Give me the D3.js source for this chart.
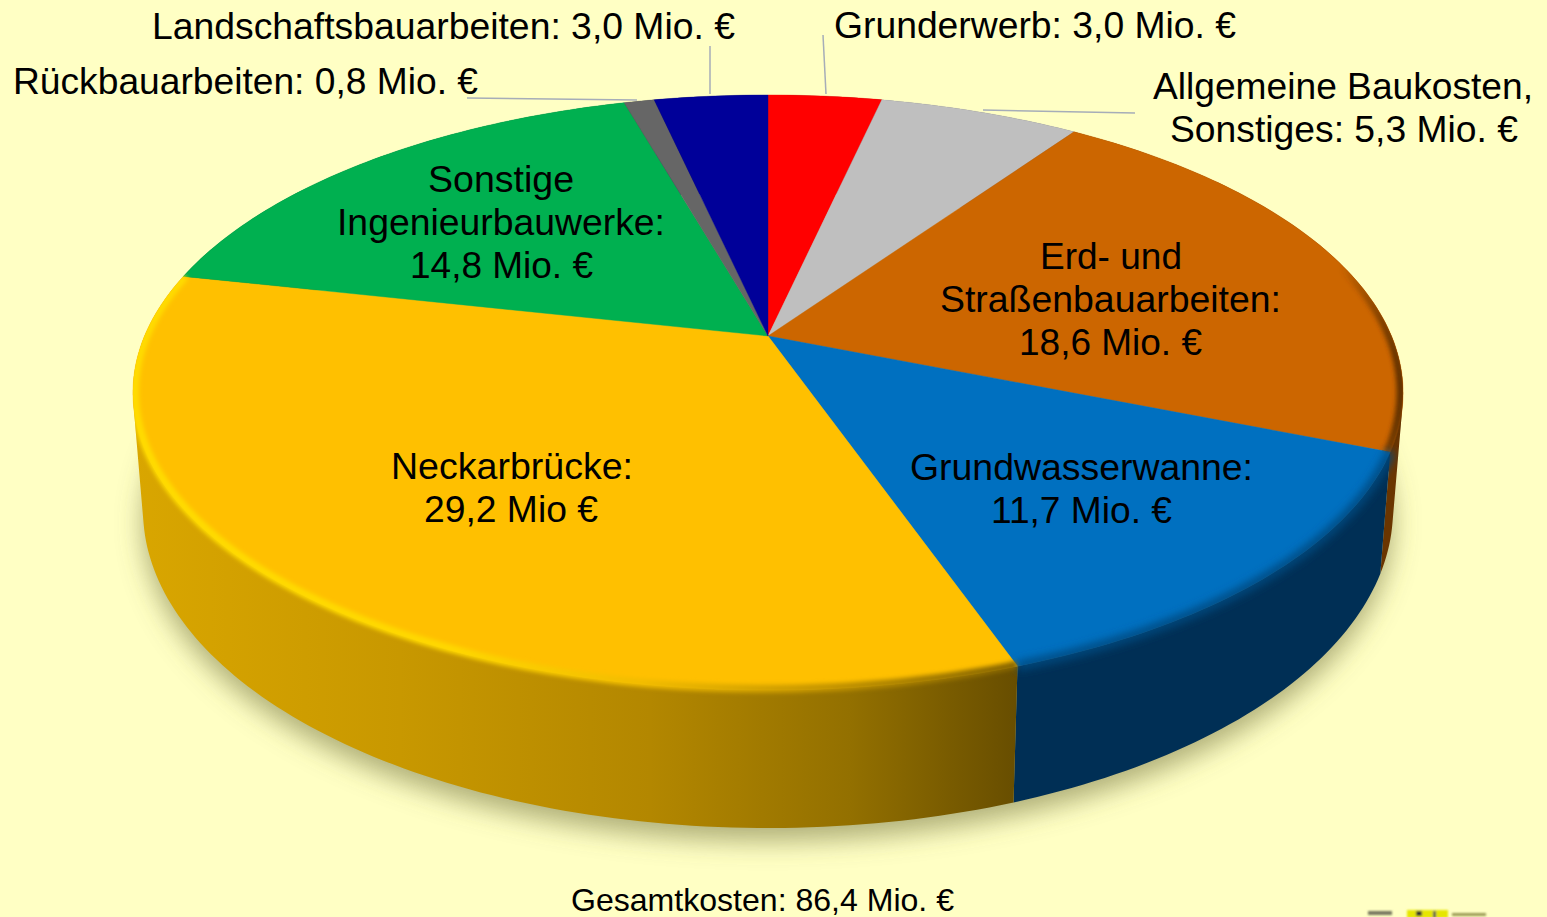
<!DOCTYPE html>
<html>
<head>
<meta charset="utf-8">
<script src="https://cdn.jsdelivr.net/npm/d3@7"></script>
<style>
  html, body { margin: 0; padding: 0; background: #ffffc4; overflow: hidden; }
  text { font-family: "Liberation Sans", Arial, sans-serif; fill: #000; }
</style>
</head>
<body>
<svg id="chart" width="1547" height="917"></svg>
<script>
// clockwise from 12 o'clock
const categories = ["Grunderwerb", "Allgemeine Baukosten, Sonstiges", "Erd- und Straßenbauarbeiten",
  "Grundwasserwanne", "Neckarbrücke", "Sonstige Ingenieurbauwerke", "Rückbauarbeiten", "Landschaftsbauarbeiten"];
const values = [3.0, 5.3, 18.6, 11.7, 29.2, 14.8, 0.8, 3.0];
const topColors = ["#ff0000", "#bfbfbf", "#cc6600", "#0070c0", "#ffc000", "#00b050", "#666666", "#000099"];
const sideColors = ["#800000", "#606060", "#6a3500", "#002f55", "#c89800", "#005828", "#333333", "#00004d"];

// [text, left, right, baseline]
const labelLines = [
  ["Landschaftsbauarbeiten: 3,0 Mio. €", 152, 735, 39],
  ["Rückbauarbeiten: 0,8 Mio. €", 13, 478, 94],
  ["Grunderwerb: 3,0 Mio. €", 834, 1236, 38],
  ["Allgemeine Baukosten,", 1153, 1533, 99],
  ["Sonstiges: 5,3 Mio. €", 1170, 1518, 142],
  ["Sonstige", 428, 574, 192],
  ["Ingenieurbauwerke:", 337, 665, 235],
  ["14,8 Mio. €", 410, 593, 278],
  ["Erd- und", 1040, 1182, 269],
  ["Straßenbauarbeiten:", 940, 1281, 312],
  ["18,6 Mio. €", 1019, 1202, 355],
  ["Neckarbrücke:", 391, 633, 479],
  ["29,2 Mio €", 424, 598, 522],
  ["Grundwasserwanne:", 910, 1253, 480],
  ["11,7 Mio. €", 991, 1172, 523]
];
const totalLabel = ["Gesamtkosten: 86,4 Mio. €", 571, 954, 911];

// leader lines [x1, y1, x2, y2]
const leaders = [[710, 46, 710, 94], [823, 35, 826, 94], [467, 98, 637, 100], [983, 110, 1135, 113]];

const svg = d3.select("#chart");
const defs = svg.append("defs");

// perspective disc: k is the tilt, same for both rims
const k = 0.19;
const cx = 768;
const rimTop = { y0: 336, rx: 623.5, ry: 286.8 };
const rimBottom = { y0: 449.6, rx: 613.6, ry: 306.5 };

const project = (a, rim, scale = 1) => {
  const u = Math.sin(a) * scale;
  const v = -Math.cos(a) * scale;
  const w = 1 - k * v;
  return [cx + (rim.rx * u) / w, rim.y0 + (rim.ry * v) / w];
};

const arcPoints = (a0, a1, rim, scale = 1) => {
  const n = Math.max(2, Math.ceil(((a1 - a0) * 180) / Math.PI));
  return d3.range(n + 1).map((i) => project(a0 + ((a1 - a0) * i) / n, rim, scale));
};

const pie = d3.pie().sort(null).startAngle(0).endAngle(2 * Math.PI)(values);
const line = d3.line();

const topPath = (d) =>
  line([[cx, rimTop.y0], ...arcPoints(d.startAngle, d.endAngle, rimTop)]) + "Z";

// one path of small quads, wound like the top slices so overlaps stay filled
const sidePath = (d) => {
  const a = arcPoints(d.startAngle, d.endAngle, rimTop);
  const b = arcPoints(d.startAngle, d.endAngle, rimBottom);
  return a.slice(1).map((p, i) => {
    const quad = [a[i], p, b[i + 1], b[i]];
    return line(d3.polygonArea(quad) > 0 ? quad.reverse() : quad) + "Z";
  }).join("");
};

// background
svg.append("rect").attr("width", 1547).attr("height", 917).attr("fill", "#ffffc4");

const blur = (id, s) =>
  defs.append("filter").attr("id", id)
    .attr("x", "-20%").attr("y", "-20%").attr("width", "140%").attr("height", "140%")
    .append("feGaussianBlur").attr("stdDeviation", s);
blur("shadow", 13);
blur("soft", 2.2);
blur("softer", 4);
blur("logoBlur", 1);

// soft shadow
svg.append("path")
  .attr("d", line(arcPoints(0, 2 * Math.PI, rimBottom)) + "Z")
  .attr("transform", "translate(0,13)")
  .attr("fill", "#6f6f3c")
  .attr("fill-opacity", 0.55)
  .attr("filter", "url(#shadow)");

// gradients for the Neckarbrücke wall and the rim highlights
const gradient = (id, stops) => {
  const g = defs.append("linearGradient").attr("id", id)
    .attr("gradientUnits", "userSpaceOnUse")
    .attr("x1", 130).attr("x2", 1403).attr("y1", 0).attr("y2", 0);
  stops.forEach((s) => g.append("stop")
    .attr("offset", (s[0] - 130) / 1273)
    .attr("stop-color", s[1])
    .attr("stop-opacity", s[2] === undefined ? 1 : s[2]));
};
gradient("wallNeckar", [[133, "#d9a600"], [400, "#c89800"], [650, "#b38700"], [850, "#937000"], [1015, "#684e00"]]);
gradient("rimNeckar", [[133, "#ffdc00"], [450, "#ffd800"], [640, "#f2bc00"], [830, "#c39400"], [1015, "#866500"]]);
gradient("rimBlue", [[1015, "#00497f"], [1403, "#00497f"]]);
gradient("rimOrange", [[1340, "#6a3500", 0], [1378, "#6a3500", 0.7], [1403, "#5c2e00"]]);

const wallFill = (i) => (categories[i] === "Neckarbrücke" ? "url(#wallNeckar)" : sideColors[i]);

// walls back to front, the top covers what faces away
const order = d3.range(pie.length).sort((a, b) =>
  d3.descending(Math.abs(Math.PI - (pie[a].startAngle + pie[a].endAngle) / 2),
    Math.abs(Math.PI - (pie[b].startAngle + pie[b].endAngle) / 2)));

svg.append("g").selectAll("path")
  .data(order)
  .join("path")
  .attr("d", (i) => sidePath(pie[i]))
  .attr("fill", wallFill);

svg.append("g").selectAll("path")
  .data(pie)
  .join("path")
  .attr("d", topPath)
  .attr("fill", (d, i) => topColors[i])
  .attr("stroke", (d, i) => topColors[i])
  .attr("stroke-width", 0.4);

// blurred bevel along the front rim, clipped to the pie body
defs.append("clipPath").attr("id", "body")
  .append("path")
  .attr("d", pie.map(topPath).join("") + pie.map(sidePath).join(""));

const rimFor = {
  "Erd- und Straßenbauarbeiten": ["url(#rimOrange)", "url(#soft)", 0.996, 8],
  "Grundwasserwanne": ["url(#rimBlue)", "url(#softer)", 1, 9],
  "Neckarbrücke": ["url(#rimNeckar)", "url(#soft)", 0.997, 8]
};
svg.append("g")
  .attr("clip-path", "url(#body)")
  .selectAll("path")
  .data(pie.filter((d, i) => rimFor[categories[i]]))
  .join("path")
  .attr("d", (d) => line(arcPoints(d.startAngle, d.endAngle, rimTop, rimFor[categories[d.index]][2])))
  .attr("fill", "none")
  .attr("stroke", (d) => rimFor[categories[d.index]][0])
  .attr("filter", (d) => rimFor[categories[d.index]][1])
  .attr("stroke-width", (d) => rimFor[categories[d.index]][3]);

// leader lines
svg.append("g").selectAll("line")
  .data(leaders)
  .join("line")
  .attr("x1", (d) => d[0]).attr("y1", (d) => d[1])
  .attr("x2", (d) => d[2]).attr("y2", (d) => d[3])
  .attr("stroke", "#a6adb8")
  .attr("stroke-width", 1.5);

// labels, squeezed to the width they have in the picture
const drawText = (sel, size) => sel
  .attr("x", (d) => d[1])
  .attr("y", (d) => d[3])
  .attr("textLength", (d) => d[2] - d[1])
  .attr("lengthAdjust", "spacingAndGlyphs")
  .attr("font-size", size)
  .text((d) => d[0]);

svg.append("g").selectAll("text").data(labelLines).join("text").call(drawText, 37);
svg.append("g").selectAll("text").data([totalLabel]).join("text").call(drawText, 32);

// small logo cut off by the bottom edge
const logo = svg.append("g").attr("filter", "url(#logoBlur)");
logo.append("rect").attr("x", 1407).attr("y", 910).attr("width", 41).attr("height", 8).attr("fill", "#e6e600");
logo.append("rect").attr("x", 1416).attr("y", 911).attr("width", 6).attr("height", 5).attr("fill", "#333");
logo.append("rect").attr("x", 1433).attr("y", 911).attr("width", 3).attr("height", 7).attr("fill", "#555");
logo.append("rect").attr("x", 1368).attr("y", 911).attr("width", 24).attr("height", 4).attr("fill", "#77775f");
logo.append("rect").attr("x", 1452).attr("y", 913).attr("width", 34).attr("height", 3).attr("fill", "#9a9a55");
</script>
</body>
</html>
